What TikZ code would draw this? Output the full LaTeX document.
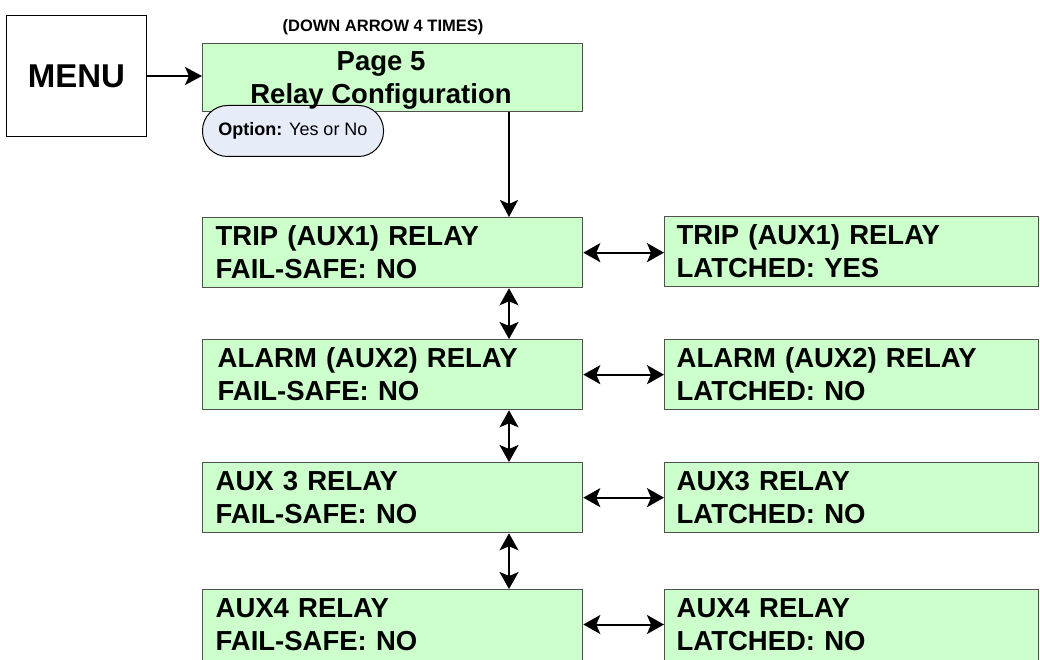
\documentclass[tikz,border=0pt]{standalone}
\usepackage{fontspec}
\setmainfont{Liberation Sans}
\usetikzlibrary{arrows.meta}
\definecolor{relaygreen}{HTML}{CCFFCC}
\definecolor{optblue}{HTML}{E6ECF8}
\definecolor{boxline}{HTML}{505050}
\begin{document}
\begin{tikzpicture}[x=1pt,y=-1pt,
  arr/.style={line width=2pt,-{Stealth[length=17pt,width=18pt,inset=4pt]}},
  dbl/.style={line width=2pt,{Stealth[length=17pt,width=19pt,inset=4pt]}-{Stealth[length=17pt,width=19pt,inset=4pt]}},
  relaybox/.style={rectangle,draw=boxline,fill=relaygreen,line width=1.3pt,anchor=north west,
    inner ysep=0pt,align=left,text height=27.5pt,text depth=42.5pt,
    font=\bfseries\fontsize{27.5}{33}\selectfont},
  leftbox/.style={relaybox,inner xsep=13pt,text width=354pt},
  rightbox/.style={relaybox,inner xsep=12pt,text width=350pt},
  bigtext/.style={font=\bfseries\fontsize{27.5}{33}\selectfont,anchor=base,inner sep=0pt}
]
\useasboundingbox (0,0) rectangle (1040,660);
\fill[white] (0,0) rectangle (1040,660);
\coordinate (vx) at (509,0);

% MENU
\node[rectangle,draw=black,line width=1pt,anchor=north west,minimum width=140pt,minimum height=121pt,
  inner sep=0pt,font=\bfseries\fontsize{33}{38}\selectfont] (menu) at (6,15) {MENU};

% header
\node[font=\bfseries\fontsize{16.5}{19}\selectfont,inner sep=0pt] (hdr) at (383,27) {(DOWN ARROW 4 TIMES)};

% Page 5
\node[rectangle,draw=boxline,fill=relaygreen,line width=1.3pt,anchor=north west,
  minimum width=380pt,minimum height=68pt,inner sep=0pt] (p5) at (202,43) {};

% Option pill
\node[rectangle,rounded corners=25pt,draw=black,fill=optblue,line width=1pt,anchor=north west,
  minimum width=181pt,minimum height=51pt,inner sep=0pt,font=\fontsize{18}{21}\selectfont] (opt) at (202,105)
  {\textbf{Option:} Yes or No};

\node[bigtext] (p5a) at (381,71) {Page 5};
\node[bigtext] (p5b) at (381,104) {Relay Configuration};

% left column
\node[leftbox] (l1) at (202,217) {TRIP (AUX1) RELAY\\FAIL-SAFE: NO};
\node[leftbox] (l2) at (202,339) {\hspace*{2pt}ALARM (AUX2) RELAY\\\hspace*{2pt}FAIL-SAFE: NO};
\node[leftbox] (l3) at (202,462) {AUX 3 RELAY\\FAIL-SAFE: NO};
\node[leftbox,text depth=46pt] (l4) at (202,589) {AUX4 RELAY\\FAIL-SAFE: NO};

% right column
\node[rightbox] (r1) at (664,216) {TRIP (AUX1) RELAY\\LATCHED: YES};
\node[rightbox] (r2) at (664,339) {ALARM (AUX2) RELAY\\LATCHED: NO};
\node[rightbox] (r3) at (664,462) {AUX3 RELAY\\LATCHED: NO};
\node[rightbox,text depth=46pt] (r4) at (664,589) {AUX4 RELAY\\LATCHED: NO};

% connectors
\draw[arr] (menu.east) -- (menu.east -| p5.west);
\draw[arr] (p5.south -| vx) -- (l1.north -| vx);
\draw[dbl] (l1.south -| vx) -- (l2.north -| vx);
\draw[dbl] (l2.south -| vx) -- (l3.north -| vx);
\draw[dbl] (l3.south -| vx) -- (l4.north -| vx);
\draw[dbl] (l1.east) -- (l1.east -| r1.west);
\draw[dbl] (l2.east) -- (l2.east -| r2.west);
\draw[dbl] (l3.east) -- (l3.east -| r3.west);
\draw[dbl] ([yshift=-35.5pt]l4.north east) -- ([yshift=-35.5pt]l4.north east -| r4.west);
\end{tikzpicture}
\end{document}
